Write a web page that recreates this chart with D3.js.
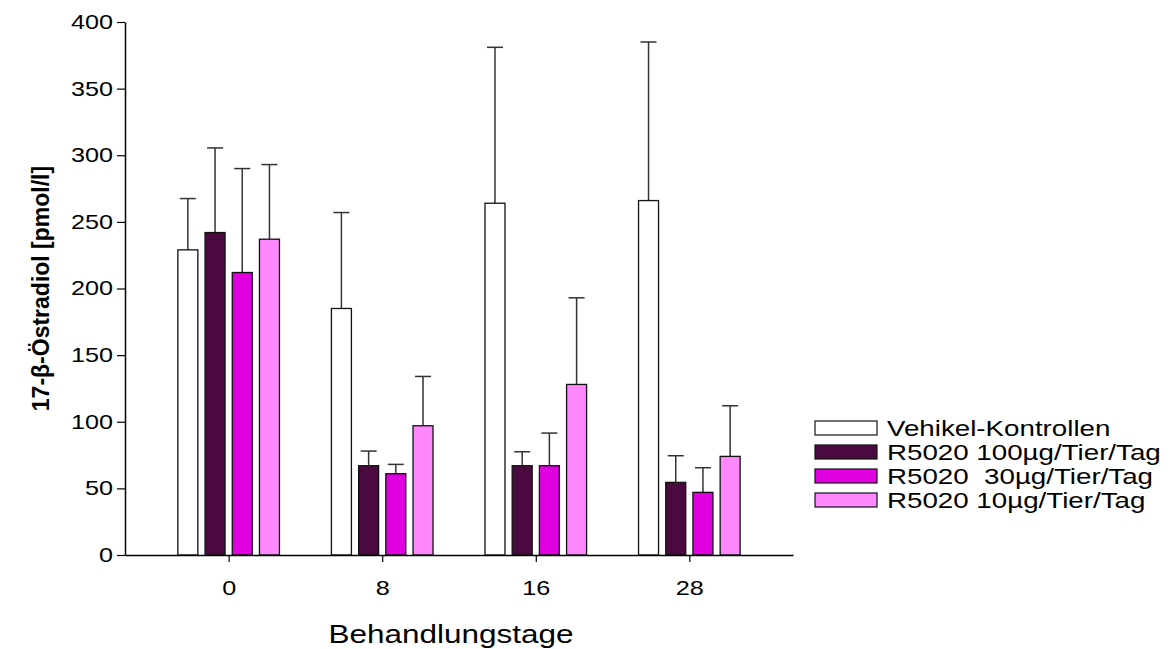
<!DOCTYPE html>
<html>
<head>
<meta charset="utf-8">
<script src="https://cdn.jsdelivr.net/npm/d3@7"></script>
<style>
  html, body { margin: 0; padding: 0; background: #fff; }
  svg { display: block; font-family: "Liberation Sans", Arial, sans-serif; }
</style>
</head>
<body>
<svg id="chart" width="1171" height="649"></svg>
<script>
// Treatment days on the x axis
const days = ["0", "8", "16", "28"];

// Group names, in drawing order
const groups = [
  "Vehikel-Kontrollen",
  "R5020 100µg/Tier/Tag",
  "R5020  30µg/Tier/Tag",
  "R5020 10µg/Tier/Tag"
];
const groupColors = ["#ffffff", "#4b0a3f", "#e000df", "#ff88ff"];

// Mean 17-β-estradiol per group, one value per day
const vehikelMean = [229, 185, 264, 266];
const r100Mean    = [242, 67,  67,  54.5];
const r30Mean     = [212, 61,  67,  47];
const r10Mean     = [237, 97,  128, 74];

// Upper end of each error bar (mean + SD)
const vehikelUpper = [267.5, 257, 381, 385];
const r100Upper    = [305.5, 78,  77.5, 74.5];
const r30Upper     = [290,   68,  91.5, 65.5];
const r10Upper     = [293,   134, 193, 112];

const yTicks = [0, 50, 100, 150, 200, 250, 300, 350, 400];

const means  = [vehikelMean, r100Mean, r30Mean, r10Mean];
const uppers = [vehikelUpper, r100Upper, r30Upper, r10Upper];

const rows = [];
groups.forEach((g, gi) => {
  days.forEach((d, di) => {
    rows.push({ group: g, gi, day: d, mean: means[gi][di], upper: uppers[gi][di] });
  });
});

const svg = d3.select("#chart");
const plotLeft = 125, plotRight = 793, plotTop = 22, plotBottom = 555;
// horizontal text is set slightly wide
const stretch = 1.26;

const x = d3.scalePoint().domain(days).range([plotLeft, plotRight]).padding(0.675);
const xInner = d3.scaleBand().domain(groups)
  .range([-54.4, 54.4]).paddingInner(0.265).paddingOuter(0.1325);
const y = d3.scaleLinear().domain([0, 400]).range([plotBottom, plotTop]);

// Error bars (upper half only), drawn behind the bars
const capW = 16;
const err = svg.append("g").attr("stroke", "#333").attr("stroke-width", 1.5);
rows.forEach(r => {
  const cx = x(r.day) + xInner(r.group) + xInner.bandwidth() / 2;
  err.append("line").attr("x1", cx).attr("x2", cx)
    .attr("y1", y(r.mean)).attr("y2", y(r.upper));
  err.append("line").attr("x1", cx - capW / 2).attr("x2", cx + capW / 2)
    .attr("y1", y(r.upper)).attr("y2", y(r.upper));
});

// Bars
svg.append("g").selectAll("rect").data(rows).join("rect")
  .attr("x", d => x(d.day) + xInner(d.group))
  .attr("width", xInner.bandwidth())
  .attr("y", d => y(d.mean))
  .attr("height", d => y(0) - y(d.mean))
  .attr("fill", d => groupColors[d.gi])
  .attr("stroke", "#111")
  .attr("stroke-width", 1.3);

// Y axis
const yAxis = svg.append("g")
  .attr("transform", `translate(${plotLeft},0)`)
  .call(d3.axisLeft(y).tickValues(yTicks).tickSize(8).tickPadding(4).tickSizeOuter(0));
yAxis.select(".domain").attr("stroke", "#000").attr("stroke-width", 1.5);
yAxis.selectAll(".tick line").attr("stroke", "#000").attr("stroke-width", 1.2);
yAxis.selectAll("text").attr("font-size", 20).attr("fill", "#000")
  .attr("font-family", "'Liberation Sans', Arial, sans-serif")
  .attr("x", -12 / stretch)
  .attr("transform", `scale(${stretch},1)`);

// X axis
const xAxis = svg.append("g")
  .attr("transform", `translate(0,${plotBottom})`)
  .call(d3.axisBottom(x).tickSize(7).tickPadding(19).tickSizeOuter(0));
xAxis.select(".domain").attr("stroke", "#000").attr("stroke-width", 1.5);
xAxis.selectAll(".tick line").attr("stroke", "#000").attr("stroke-width", 1.2);
xAxis.selectAll("text").attr("font-size", 20).attr("fill", "#000")
  .attr("font-family", "'Liberation Sans', Arial, sans-serif")
  .attr("transform", `scale(${stretch},1)`);

// Axis titles
svg.append("text")
  .attr("transform", `translate(41,${(plotTop + plotBottom) / 2}) rotate(-90)`)
  .attr("text-anchor", "middle")
  .attr("dy", "0.36em")
  .attr("font-size", 23).attr("font-weight", "bold")
  .text("17-β-Östradiol [pmol/l]");

svg.append("text")
  .attr("transform", `translate(${(plotLeft + plotRight) / 2 - 8},643) scale(${stretch},1)`)
  .attr("text-anchor", "middle")
  .attr("font-size", 25)
  .text("Behandlungstage");

// Legend
const legend = svg.append("g").attr("transform", "translate(815,428)");
groups.forEach((g, i) => {
  const row = legend.append("g").attr("transform", `translate(0,${i * 24})`);
  row.append("rect").attr("x", 0).attr("y", -7).attr("width", 62).attr("height", 14)
    .attr("fill", groupColors[i]).attr("stroke", "#111").attr("stroke-width", 1.2);
  row.append("text")
    .attr("transform", `translate(72,0) scale(${stretch},1)`)
    .attr("dy", "0.36em")
    .attr("font-size", 22)
    .style("white-space", "pre")
    .text(g);
});
</script>
</body>
</html>
